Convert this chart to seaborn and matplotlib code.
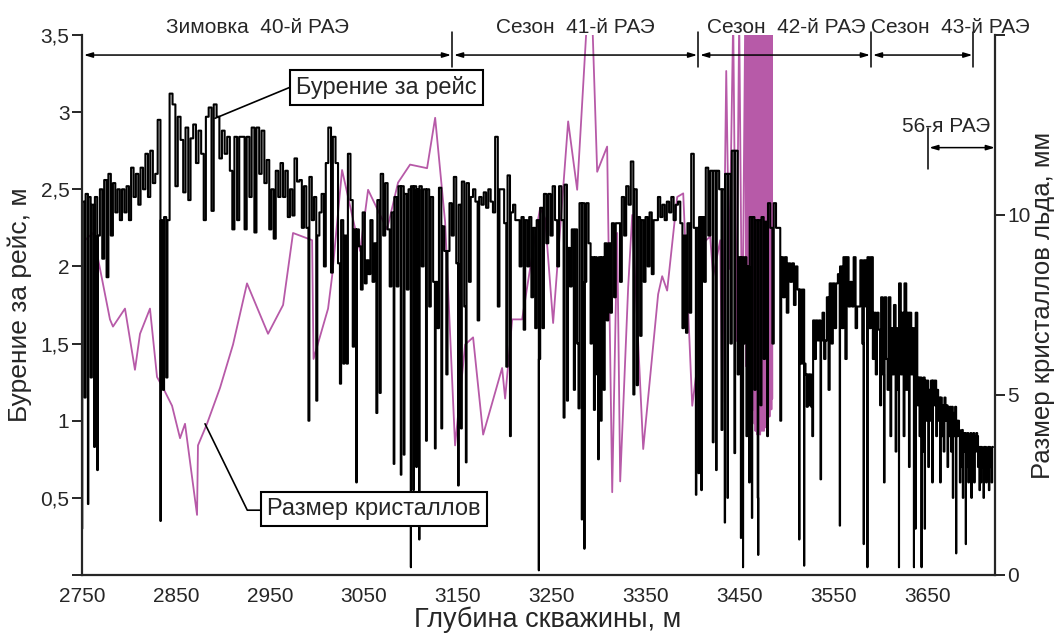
import numpy as np
import matplotlib
matplotlib.use("Agg")
import matplotlib.pyplot as plt
import seaborn as sns

# run length per drilling run, m (each run also advances the depth by its length)
run_len_a = [0.3, 2.42, 1.15, 2.47, 0.46, 2.45, 1.28, 2.4, 0.83, 2.45, 0.68, 2.2,
             2.5, 2.05, 2.56, 1.93, 2.6, 2.2, 2.54, 2.35, 2.5,
             2.3, 2.5, 2.35, 2.52, 2.3, 2.64, 2.45, 2.6, 2.4,
             2.64, 2.5, 2.73, 2.45, 2.75, 2.54, 2.6, 2.95,
             0.35, 2.3, 1.2, 2.32, 1.28, 2.3, 3.12, 3.05, 2.52, 2.97,
             2.82, 2.48, 2.9, 2.43, 2.83, 2.92, 2.67, 2.88,
             2.73, 2.3, 2.97, 3.03, 2.36, 3.05, 2.97, 2.7,
             2.88, 2.73, 2.84, 2.62, 2.24, 2.84, 2.3, 2.84,
             2.84, 2.24, 2.84, 2.45, 2.9, 2.22, 2.9, 2.6,
             2.88, 2.54, 2.69, 2.24, 2.5, 2.18, 2.62, 2.45]
run_len_b = [2.67, 2.45, 2.62, 2.32, 2.5, 2.33, 2.7, 2.55,
             2.56, 2.25, 2.52, 2.25, 1.0, 2.58, 2.3, 2.45, 1.13, 2.2,
             2.35, 2.47, 2.0, 2.67, 2.9, 1.96, 2.84, 2.67, 2.02,
             1.24, 2.3, 1.37, 2.2, 1.37, 2.73, 2.43, 1.48, 2.24, 0.6, 2.24,
             2.13, 1.85, 2.35, 1.89, 2.04, 1.95, 2.3, 1.9, 2.15, 1.05,
             2.43, 1.18, 2.6, 2.2, 2.54, 2.24, 1.87, 2.35, 0.72, 2.45, 1.87,
             2.52, 0.65, 2.52, 0.78, 2.47, 1.85, 2.5, 0.05, 2.52, 0.55, 2.52, 0.7, 2.5,
             0.23, 2.52, 2.0, 2.5, 0.87, 2.5, 1.74, 2.45, 1.9, 0.82, 1.9, 1.6,
             2.51, 0.95, 2.26, 2.1, 1.3, 2.1, 2.41, 2.2, 2.58, 2.02, 0.58,
             2.4, 0.95, 2.55, 1.74, 0.73, 2.54, 1.9, 2.45, 2.5, 2.42]
run_len_c = [1.65, 2.45, 2.4, 2.48, 2.38, 2.5, 2.42, 2.35, 2.84,
             1.74, 2.5, 2.5, 2.28, 1.35, 2.59, 0.9, 2.35, 2.4, 2.3,
             2.3, 2.0, 2.32, 1.59, 2.3, 2.0, 2.32, 1.8, 2.25, 1.6, 2.3, 0.03,
             1.4, 2.38, 1.6, 2.47, 2.15, 2.47, 2.2, 2.52, 2.3, 2.0,
             2.52, 2.3, 1.02, 2.53, 1.13, 2.12, 1.87, 2.24, 1.2, 2.24, 1.5,
             1.08, 2.41, 0.36, 2.41, 0.17, 1.9, 2.41, 2.15, 1.5, 2.06, 1.07, 2.06, 1.3,
             0.75, 2.06, 1.0, 2.06, 1.2, 2.15, 1.65, 2.15, 1.7, 2.28, 1.8, 2.28,
             2.28, 1.9, 2.45, 2.2, 2.52, 2.4, 2.68, 1.17, 2.5, 1.23,
             2.32, 1.55, 2.3, 1.9, 2.32, 2.0, 2.35, 1.95, 2.3, 2.3,
             2.45, 2.32, 2.4, 2.3, 2.42, 2.35, 2.45, 2.3, 2.4]
run_len_d = [2.42, 2.28, 1.6, 2.2, 1.57, 2.28, 1.7, 2.73, 2.25, 0.52, 2.25,
             0.66, 2.32, 0.55, 2.32, 1.9, 2.64, 2.2, 2.62, 0.86, 2.62, 0.68, 2.62,
             2.5, 0.94, 2.5, 0.34, 2.6, 0.5, 2.6, 1.5, 2.75, 0.79, 2.75, 1.3,
             2.06, 0.24, 2.06, 0.05, 1.5, 2.06, 0.9, 2.0, 0.6, 2.32, 0.37, 2.32, 1.2, 2.3, 0.5,
             0.13, 2.3, 1.1, 2.32, 1.4, 2.29, 0.9, 2.41, 2.25, 1.5, 2.41, 2.25,
             2.25, 1.0, 2.06, 1.8, 2.06, 1.7, 2.02, 1.9, 2.02, 1.75, 2.0,
             1.85, 0.23, 1.85, 1.37, 1.85, 0.06, 1.37, 1.3, 1.09, 1.3, 1.1, 1.3, 1.09, 0.9, 1.65, 1.4, 1.65,
             1.52, 1.65, 0.62, 1.52, 1.7, 1.4, 1.52, 1.8, 1.2, 1.89, 1.5, 1.89, 1.6, 1.89]
run_len_e = [1.95, 0.32, 2.0, 1.6, 2.06, 1.4, 2.06, 1.74, 1.9, 1.74, 2.06, 1.6, 1.74,
             1.74, 2.04, 1.5, 0.2, 2.04, 1.74, 0.05, 2.06, 1.6, 2.06, 1.4, 1.7, 1.3, 1.7,
             1.59, 1.1, 1.8, 1.3, 0.6, 1.8, 1.4, 1.2, 1.8, 0.9, 1.6, 1.3, 1.75, 0.8, 1.6, 1.2,
             0.05, 1.89, 1.3, 1.7, 0.9, 1.89, 1.2, 1.7, 0.7, 1.7, 1.3, 1.6, 0.05, 1.5, 0.3, 1.7, 1.1,
             1.28, 0.9, 1.28, 0.05, 1.2, 0.8, 1.28, 0.3, 1.26, 1.0, 1.26, 0.7, 1.2, 1.0, 1.26, 0.6,
             1.26, 1.1, 1.26, 0.9, 1.2, 1.0,
             1.15, 0.6, 1.15, 0.9, 1.1, 0.8, 1.15, 1.0, 1.1, 0.7, 1.09, 0.9, 1.09, 0.8, 1.09, 0.5,
             1.05, 0.9, 1.09, 0.14, 1.0, 0.9, 1.0,
             0.94, 0.6, 0.9, 0.7, 0.94, 0.5, 0.92, 0.8, 0.92, 0.2, 0.9, 0.7, 0.92, 0.6, 0.9, 0.75,
             0.92, 0.5, 0.9, 0.7, 0.92, 0.6, 0.9, 0.8, 0.92, 0.9, 0.7,
             0.83, 0.55, 0.83, 0.6, 0.83, 0.7, 0.8, 0.5, 0.83, 0.65, 0.83, 0.6, 0.8, 0.7, 0.83, 0.55,
             0.83, 0.7, 0.8, 0.6, 0.83]
start_depth = 2750.0

# crystal size, mm (right axis)
crystal_depth = [2753.2, 2761.7, 2779.8, 2783.0, 2795.8, 2806.4, 2811.8, 2822.4, 2829.9, 2836.3,
                 2845.9, 2854.4, 2859.7, 2872.5, 2873.5, 2883.1, 2897.0, 2910.8, 2925.7, 2948.1,
                 2964.1, 2974.7, 2995.0, 2996.5, 3012.0, 3016.3, 3026.9, 3046.1, 3054.6, 3074.8,
                 3086.5, 3099.3, 3117.4, 3126.0, 3136.6, 3147.2, 3157.9, 3166.4, 3177.1, 3197.3,
                 3200.5, 3208.0, 3218.6, 3232.4, 3237.8, 3243.1, 3251.6, 3267.6, 3277.2, 3287.8,
                 3293.2, 3298.5, 3309.1, 3314.5, 3319.8, 3323.0, 3331.5, 3335.8, 3347.5, 3363.4,
                 3367.7, 3373.0, 3383.7, 3390.1, 3399.7, 3405.0, 3410.3, 3418.8, 3422.0, 3429.5,
                 3431.6, 3435.9, 3439.1, 3443.3, 3446.5, 3449.7, 3452.9, 3456.1]
crystal_mm = [9.3, 9.5, 7.1, 6.9, 7.4, 5.7, 6.7, 7.4, 5.5, 5.2,
              4.7, 3.8, 4.2, 1.67, 3.6, 4.2, 5.2, 6.4, 8.1, 6.7,
              7.5, 9.5, 9.3, 6.0, 7.4, 8.3, 11.25, 9.0, 10.7, 9.6,
              10.9, 11.4, 11.3, 12.7, 9.8, 3.6, 6.4, 6.6, 3.9, 5.75,
              4.9, 7.1, 7.1, 9.4, 10.2, 9.9, 7.0, 12.6, 10.7, 15.5,
              15.5, 11.2, 11.9, 2.3, 9.5, 2.6, 8.0, 10.0, 3.5, 7.8,
              8.3, 7.9, 10.5, 10.6, 4.7, 5.8, 9.2, 9.4, 8.3, 9.3,
              4.8, 14.0, 8.5, 15.5, 6.5, 15.5, 6.0, 15.5]
# densely sampled interval at 3457-3485 m
crystal_depth_dense = [3457.0, 3457.5, 3458.0, 3458.5, 3459.0, 3459.5, 3460.0, 3460.5, 3461.0, 3461.5,
                       3462.0, 3462.5, 3463.0, 3463.5, 3464.0, 3464.5, 3465.0, 3465.5, 3466.0, 3466.5,
                       3467.0, 3467.5, 3468.0, 3468.5, 3469.0, 3469.5, 3470.0, 3470.5, 3471.0, 3471.5,
                       3472.0, 3472.5, 3473.0, 3473.5, 3474.0, 3474.5, 3475.0, 3475.5, 3476.0, 3476.5,
                       3477.0, 3477.5, 3478.0, 3478.5, 3479.0, 3479.5, 3480.0, 3480.5, 3481.0, 3481.5,
                       3482.0, 3482.5, 3483.0, 3483.5, 3484.0, 3484.5, 3485.0]
crystal_mm_dense = [5.8, 15.5, 6.0, 15.5, 5.5, 15.5, 6.2, 15.5, 5.6, 15.5,
                    5.9, 15.5, 5.4, 15.5, 5.0, 15.5, 4.6, 15.5, 4.2, 15.5,
                    4.0, 15.5, 4.1, 15.5, 3.9, 15.5, 4.0, 15.5, 4.2, 15.5,
                    3.9, 15.5, 4.1, 15.5, 4.0, 15.5, 4.3, 15.5, 4.0, 15.5,
                    4.4, 15.5, 4.1, 15.5, 4.5, 15.5, 4.2, 15.5, 4.6, 15.5,
                    4.4, 15.5, 4.8, 15.5, 4.6, 15.5, 4.9]

# expedition seasons along the top
season_bounds = [2750, 3144, 3406, 3590, 3699]
season_labels = ["Зимовка  40-й РАЭ", "Сезон  41-й РАЭ", "Сезон  42-й РАЭ", "Сезон  43-й РАЭ"]
season_label_x = [2937, 3275, 3500, 3674]
rae56_span = [3651, 3722]

x_ticks = [2750, 2850, 2950, 3050, 3150, 3250, 3350, 3450, 3550, 3650]
y_ticks = [0, 0.5, 1, 1.5, 2, 2.5, 3, 3.5]
y_tick_labels = ["", "0,5", "1", "1,5", "2", "2,5", "3", "3,5"]
y2_ticks = [0, 5, 10, 15]
y2_tick_labels = ["0", "5", "10", ""]

PINK = "#b75aa8"
FONT = 15

sns.set_style("white")
plt.rcParams["font.family"] = ["Liberation Sans", "DejaVu Sans"]

runs = np.array(run_len_a + run_len_b + run_len_c + run_len_d + run_len_e)
edges = start_depth + np.concatenate([[0.0], np.cumsum(runs)])
step_vals = np.append(runs, runs[-1])

fig, ax = plt.subplots(figsize=(10.55, 6.35), dpi=100)
fig.subplots_adjust(left=0.0777, right=0.9431, bottom=0.0945, top=0.9449)
ax2 = ax.twinx()
ax.set_zorder(ax2.get_zorder() + 1)
ax.patch.set_visible(False)

sns.lineplot(x=np.array(crystal_depth + crystal_depth_dense),
             y=np.array(crystal_mm + crystal_mm_dense),
             ax=ax2, color=PINK, lw=1.3, sort=False, estimator=None)
sns.lineplot(x=edges, y=step_vals, ax=ax, color="black", lw=1.5,
             drawstyle="steps-post", sort=False, estimator=None)

ax.set_xlim(2750, 3722)
ax.set_ylim(0, 3.5)
ax2.set_ylim(0, 15)

ax.set_xticks(x_ticks)
ax.set_xticklabels([str(t) for t in x_ticks], fontsize=FONT)
ax.set_yticks(y_ticks)
ax.set_yticklabels(y_tick_labels, fontsize=FONT)
ax2.set_yticks(y2_ticks)
ax2.set_yticklabels(y2_tick_labels, fontsize=FONT)

for a in (ax, ax2):
    a.spines["top"].set_visible(False)
    for s in a.spines.values():
        s.set_linewidth(1.6)
    a.tick_params(direction="out", length=7, width=1.4, pad=2)
ax.spines["right"].set_visible(False)
ax2.spines["left"].set_visible(False)
ax2.spines["bottom"].set_visible(False)
ax.grid(False)
ax2.grid(False)

ax.set_xlabel("Глубина скважины, м", fontsize=19.5)
ax.xaxis.set_label_coords(0.51, -0.058)
ax.set_ylabel("Бурение за рейс, м", fontsize=19, labelpad=6)
ax2.set_ylabel("Размер кристаллов льда, мм", fontsize=18.5, labelpad=0)
ax2.set_xlabel("")

# season arrows on top
arrow_y = 3.37
for i, label in enumerate(season_labels):
    x0, x1 = season_bounds[i], season_bounds[i + 1]
    ax.annotate("", xy=(x1 - 1, arrow_y), xytext=(x0 + 2, arrow_y),
                arrowprops=dict(arrowstyle="<|-|>,head_length=0.5,head_width=0.15",
                                color="black", lw=1.1, shrinkA=0, shrinkB=0),
                annotation_clip=False)
    ax.text(season_label_x[i], 3.55, label, fontsize=FONT, ha="center", va="center",
            clip_on=False)
for b in season_bounds[1:]:
    ax.plot([b, b], [3.29, 3.52], color="black", lw=1.1, clip_on=False)

ax.annotate("", xy=(rae56_span[1], 2.77), xytext=(rae56_span[0] + 1, 2.77),
            arrowprops=dict(arrowstyle="<|-|>,head_length=0.5,head_width=0.15",
                            color="black", lw=1.1, shrinkA=0, shrinkB=0),
            annotation_clip=False)
ax.plot([rae56_span[0], rae56_span[0]], [2.63, 2.9], color="black", lw=1.1)
ax.text(3670, 2.91, "56-я РАЭ", fontsize=FONT, ha="center", va="center")

# callout boxes
box = dict(boxstyle="square,pad=0.25", fc="white", ec="black", lw=1.5)
ax.plot([2891.6, 2975], [2.96, 3.17], color="black", lw=1.2, zorder=5)
ax.text(3074, 3.16, "Бурение за рейс", fontsize=17, ha="center", va="center",
        bbox=box, zorder=6)
ax.plot([2881, 2926, 2960], [0.98, 0.42, 0.42], color="black", lw=1.2, zorder=5)
ax.text(3061, 0.43, "Размер кристаллов", fontsize=17, ha="center", va="center",
        bbox=box, zorder=6)

fig.savefig("out.png", dpi=100)
